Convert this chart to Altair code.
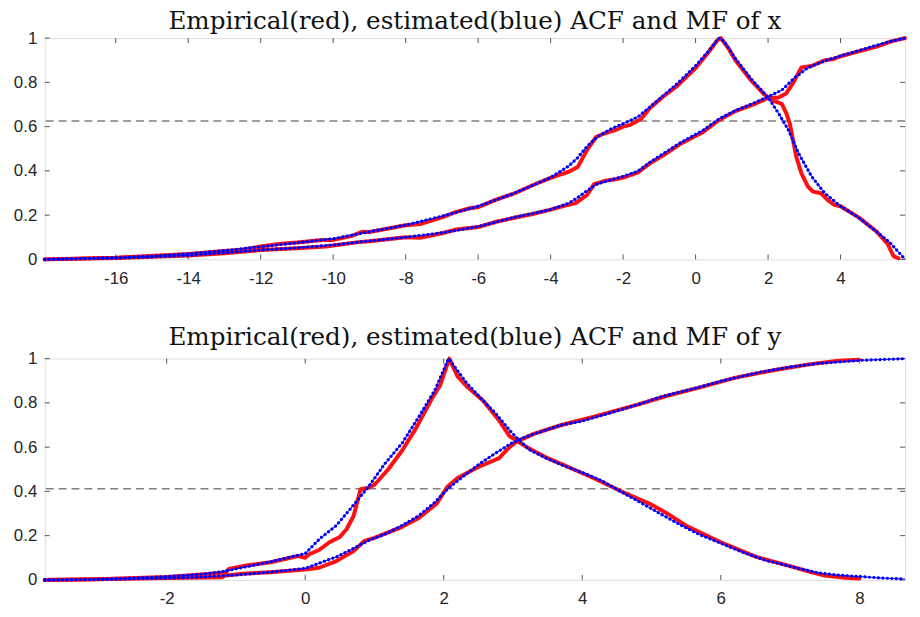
import altair as alt
import pandas as pd

# ---------------- data: top panel (x) ----------------
TOP_ACF_BLUE_X = [-17.96, -17, -16, -15, -14, -13, -12, -11, -10, -9, -8, -7, -6, -5, -4, -3.5, -3.25, -3,
                  -2.7, -2.33, -2, -1.6, -1.25, -0.89, -0.5, 0, 0.3, 0.65, 0.79, 1.11, 1.56, 2.0, 2.29, 2.56,
                  2.84, 3.2, 3.56, 4.0, 4.47, 4.92, 5.37, 5.78]
TOP_ACF_BLUE_Y = [0, 0.004, 0.008, 0.015, 0.025, 0.04, 0.057, 0.075, 0.093, 0.125, 0.155, 0.195, 0.24, 0.299,
                  0.37, 0.422, 0.46, 0.51, 0.555, 0.59, 0.613, 0.643, 0.69, 0.74, 0.795, 0.875, 0.93, 1.0,
                  0.985, 0.905, 0.81, 0.732, 0.66, 0.585, 0.48, 0.375, 0.3, 0.24, 0.192, 0.135, 0.075, 0]
TOP_MF_BLUE_X = [-17.96, -17, -16, -15, -14, -13, -12, -11, -10, -9, -8, -7, -6, -5, -4, -3.5, -3.25, -3,
                 -2.7, -2, -1.6, -1.25, -0.89, -0.44, 0.2, 0.65, 1.11, 1.56, 2.0, 2.38, 2.74, 3.1, 3.56,
                 4.0, 4.47, 4.92, 5.37, 5.78]
TOP_MF_BLUE_Y = [0, 0.003, 0.006, 0.011, 0.018, 0.03, 0.042, 0.052, 0.065, 0.083, 0.1, 0.12, 0.148, 0.19,
                 0.225, 0.254, 0.28, 0.31, 0.342, 0.375, 0.398, 0.44, 0.478, 0.525, 0.583, 0.635, 0.673,
                 0.703, 0.735, 0.765, 0.822, 0.866, 0.897, 0.919, 0.942, 0.964, 0.985, 1.0]
TOP_ACF_RED_X = [-17.96, -16, -14, -13, -12.6, -12, -11.5, -11, -10.3, -10, -9.5, -9.2, -9, -8, -7.6, -7,
                 -6.6, -6.2, -6, -5.5, -5, -4.5, -4, -3.7, -3.5, -3.25, -3.0, -2.75, -2.5, -2.2, -2.0, -1.8,
                 -1.5, -1.25, -0.9, -0.5, 0, 0.3, 0.6, 0.7, 0.9, 1.1, 1.5, 1.9, 2.1, 2.38, 2.51, 2.6, 2.69,
                 2.78, 2.92, 3.1, 3.24, 3.46, 3.64, 3.82, 4.0, 4.5, 5.0, 5.3, 5.46, 5.6]
TOP_ACF_RED_Y = [0, 0.008, 0.024, 0.038, 0.042, 0.058, 0.07, 0.076, 0.088, 0.088, 0.105, 0.125, 0.124,
                 0.154, 0.16, 0.19, 0.215, 0.232, 0.236, 0.27, 0.298, 0.335, 0.368, 0.385, 0.396, 0.418,
                 0.493, 0.553, 0.57, 0.585, 0.6, 0.608, 0.635, 0.685, 0.735, 0.785, 0.865, 0.925, 0.99, 1.0,
                 0.955, 0.9, 0.815, 0.745, 0.72, 0.703, 0.658, 0.613, 0.538, 0.463, 0.389, 0.329, 0.306,
                 0.299, 0.269, 0.247, 0.24, 0.19, 0.125, 0.07, 0.015, 0.005]
TOP_MF_RED_X = [-17.96, -16, -14, -13, -12.6, -12, -11, -10.2, -10, -9.3, -9, -8, -7.6, -7, -6.6, -6, -5.5,
                -5, -4.5, -4, -3.6, -3.3, -3.0, -2.8, -2.5, -2.2, -2, -1.6, -1.25, -0.89, -0.44, 0.2, 0.65,
                1.1, 1.6, 2.0, 2.29, 2.5, 2.7, 2.92, 3.2, 3.56, 3.8, 4.0, 4.5, 5.0, 5.4, 5.78]
TOP_MF_RED_Y = [0, 0.006, 0.017, 0.028, 0.033, 0.042, 0.05, 0.058, 0.063, 0.078, 0.082, 0.1, 0.098, 0.118,
                0.135, 0.146, 0.17, 0.188, 0.205, 0.225, 0.243, 0.255, 0.29, 0.34, 0.355, 0.362, 0.37, 0.392,
                0.435, 0.47, 0.52, 0.575, 0.63, 0.67, 0.7, 0.73, 0.732, 0.75, 0.8, 0.867, 0.874, 0.9, 0.905,
                0.918, 0.94, 0.962, 0.985, 1.0]
TOP_HLINE = 0.625
TOP_XDOMAIN = [-17.96, 5.78]
TOP_XTICKS = [-16, -14, -12, -10, -8, -6, -4, -2, 0, 2, 4]

# ---------------- data: bottom panel (y) ----------------
BOT_ACF_BLUE_X = [-3.76, -3, -2.5, -2, -1.5, -1.2, -1, -0.5, 0, 0.21, 0.45, 0.69, 0.92, 1.16, 1.4, 1.64,
                  1.87, 2.07, 2.33, 2.52, 2.75, 2.99, 3.23, 3.46, 3.7, 4.0, 4.27, 4.55, 4.84, 5.12, 5.41,
                  5.69, 6.0, 6.31, 6.64, 7.02, 7.4, 7.68, 8.0, 8.35, 8.66]
BOT_ACF_BLUE_Y = [0, 0.003, 0.008, 0.015, 0.025, 0.037, 0.05, 0.082, 0.119, 0.186, 0.246, 0.335, 0.424,
                  0.529, 0.618, 0.737, 0.856, 1.0, 0.89, 0.826, 0.752, 0.662, 0.59, 0.553, 0.52, 0.485,
                  0.45, 0.4, 0.35, 0.3, 0.25, 0.205, 0.166, 0.126, 0.089, 0.06, 0.032, 0.022, 0.015, 0.008,
                  0.004]
BOT_MF_BLUE_X = [-3.76, -3, -2, -1.5, -1, -0.5, 0, 0.45, 0.69, 0.92, 1.16, 1.4, 1.64, 1.87, 2.05, 2.33,
                 2.52, 2.75, 2.99, 3.23, 3.7, 4.0, 4.41, 4.84, 5.12, 5.69, 6.0, 6.54, 7.02, 7.4, 8.0, 8.66]
BOT_MF_BLUE_Y = [0, 0.002, 0.008, 0.013, 0.022, 0.035, 0.052, 0.104, 0.141, 0.179, 0.208, 0.246, 0.29,
                 0.35, 0.409, 0.48, 0.525, 0.573, 0.62, 0.652, 0.7, 0.718, 0.755, 0.796, 0.826, 0.871,
                 0.898, 0.937, 0.963, 0.978, 0.992, 1.0]
BOT_ACF_RED_X = [-3.76, -3, -2, -1.5, -1.15, -1.1, -0.85, -0.5, -0.1, 0.0, 0.05, 0.2, 0.35, 0.5, 0.6, 0.7,
                 0.8, 0.9, 1.0, 1.2, 1.4, 1.59, 1.83, 1.95, 2.08, 2.2, 2.33, 2.57, 2.8, 2.95, 3.05, 3.2, 3.5,
                 3.8, 4.2, 4.6, 5.0, 5.2, 5.5, 6.0, 6.5, 7.0, 7.3, 7.5, 7.8, 8.0]
BOT_ACF_RED_Y = [0, 0.003, 0.013, 0.024, 0.033, 0.05, 0.065, 0.08, 0.108, 0.1, 0.115, 0.135, 0.17, 0.194,
                 0.23, 0.29, 0.41, 0.415, 0.43, 0.5, 0.585, 0.68, 0.82, 0.88, 1.0, 0.92, 0.875, 0.81, 0.72,
                 0.65, 0.63, 0.6, 0.55, 0.51, 0.455, 0.395, 0.34, 0.305, 0.245, 0.17, 0.105, 0.062, 0.035,
                 0.02, 0.01, 0.006]
BOT_MF_RED_X = [-3.76, -2, -1.2, -1.15, -0.9, -0.5, 0, 0.2, 0.45, 0.7, 0.85, 1.0, 1.4, 1.64, 1.9, 2.05, 2.2,
                2.5, 2.8, 2.95, 3.05, 3.3, 3.7, 4.2, 4.8, 5.2, 5.7, 6.2, 6.8, 7.3, 7.7, 8.0]
BOT_MF_RED_Y = [0, 0.008, 0.012, 0.02, 0.028, 0.035, 0.047, 0.055, 0.085, 0.13, 0.175, 0.19, 0.24, 0.28,
                0.345, 0.42, 0.46, 0.51, 0.55, 0.6, 0.625, 0.66, 0.7, 0.74, 0.792, 0.83, 0.87, 0.913, 0.95,
                0.975, 0.99, 0.995]
BOT_HLINE = 0.412
BOT_XDOMAIN = [-3.76, 8.66]
BOT_XTICKS = [-2, 0, 2, 4, 6, 8]

Y_TICKS = [0, 0.2, 0.4, 0.6, 0.8, 1]

TITLES = ["Empirical(red), estimated(blue) ACF and MF of x",
          "Empirical(red), estimated(blue) ACF and MF of y"]

W, H = 867, 223
TICK_LEN = 5
LABEL_FONT = "Liberation Sans"
AX_COLOR = "#555555"


def build_df(curves):
    rows = []
    for name, kind, xs, ys in curves:
        for i, (a, b) in enumerate(zip(xs, ys)):
            rows.append({"x": a, "y": b, "curve": name, "kind": kind, "i": i})
    return pd.DataFrame(rows)


def panel(title, xdomain, xticks, hline, curves, title_offset):
    df = build_df(curves)
    xs = alt.Scale(domain=xdomain, nice=False, zero=False)
    ys = alt.Scale(domain=[0, 1], nice=False, zero=False)
    ax_x = alt.Axis(values=xticks, labelExpr="'' + datum.value", labelPadding=11, ticks=False,
                    domain=False, grid=False, title=None, labelFont=LABEL_FONT, labelFontSize=17,
                    labelColor="#262626")
    ax_y = alt.Axis(values=Y_TICKS, labelExpr="'' + datum.value", labelPadding=8, ticks=False,
                    domain=False, grid=False, title=None, labelFont=LABEL_FONT, labelFontSize=17,
                    labelColor="#262626")

    def X(field):
        return alt.X(field, type="quantitative", scale=xs, axis=ax_x)

    def Y(field):
        return alt.Y(field, type="quantitative", scale=ys, axis=ax_y)

    base = alt.Chart(df)
    rule = alt.Chart(pd.DataFrame({"h": [hline]})).mark_rule(
        color="#808080", strokeWidth=1.5, strokeDash=[8, 5]
    ).encode(y=Y("h"))

    xt = alt.Chart(pd.DataFrame({"t": xticks}))
    yt = alt.Chart(pd.DataFrame({"t": Y_TICKS}))
    tick_style = dict(color=AX_COLOR, strokeWidth=1)
    xticks_bottom = xt.mark_rule(**tick_style).encode(
        x=X("t"), y=alt.value(H - TICK_LEN), y2=alt.value(H))
    xticks_top = xt.mark_rule(**tick_style).encode(
        x=X("t"), y=alt.value(0), y2=alt.value(TICK_LEN))
    yticks_left = yt.mark_rule(**tick_style).encode(
        y=Y("t"), x=alt.value(0), x2=alt.value(TICK_LEN))
    yticks_right = yt.mark_rule(**tick_style).encode(
        y=Y("t"), x=alt.value(W - TICK_LEN), x2=alt.value(W))

    red = base.transform_filter(alt.datum.kind == "red").mark_line(
        color="#ff1010", strokeWidth=4, strokeCap="round", strokeJoin="round"
    ).encode(x=X("x"), y=Y("y"), detail="curve:N", order="i:Q")
    blue_thin = base.transform_filter(alt.datum.kind == "blue").mark_line(
        color="#1010ff", strokeWidth=1
    ).encode(x=X("x"), y=Y("y"), detail="curve:N", order="i:Q")
    blue_dots = base.transform_filter(alt.datum.kind == "blue").mark_line(
        color="#0000ff", strokeWidth=3.2, strokeDash=[0.1, 4.4], strokeCap="round"
    ).encode(x=X("x"), y=Y("y"), detail="curve:N", order="i:Q")
    return alt.layer(
        rule, xticks_bottom, xticks_top, yticks_left, yticks_right, red, blue_thin, blue_dots
    ).properties(
        width=W, height=H,
        title=alt.TitleParams(title, font="DejaVu Serif", fontSize=24.8, fontWeight="normal",
                              color="#111111", anchor="middle", frame="group", offset=title_offset),
    )


top = panel(TITLES[0], TOP_XDOMAIN, TOP_XTICKS, TOP_HLINE, [
    ("acf_red", "red", TOP_ACF_RED_X, TOP_ACF_RED_Y),
    ("mf_red", "red", TOP_MF_RED_X, TOP_MF_RED_Y),
    ("acf_blue", "blue", TOP_ACF_BLUE_X, TOP_ACF_BLUE_Y),
    ("mf_blue", "blue", TOP_MF_BLUE_X, TOP_MF_BLUE_Y),
], title_offset=-5)
bottom = panel(TITLES[1], BOT_XDOMAIN, BOT_XTICKS, BOT_HLINE, [
    ("acf_red", "red", BOT_ACF_RED_X, BOT_ACF_RED_Y),
    ("mf_red", "red", BOT_MF_RED_X, BOT_MF_RED_Y),
    ("acf_blue", "blue", BOT_ACF_BLUE_X, BOT_ACF_BLUE_Y),
    ("mf_blue", "blue", BOT_MF_BLUE_X, BOT_MF_BLUE_Y),
], title_offset=0)

chart = alt.vconcat(top, bottom, spacing=37).properties(
    padding={"left": 4, "top": -2, "right": 0, "bottom": 0}
).configure_view(stroke=AX_COLOR, strokeWidth=1).configure(background="white")

chart.save("out.html", embed_options={"renderer": "svg", "actions": False})
